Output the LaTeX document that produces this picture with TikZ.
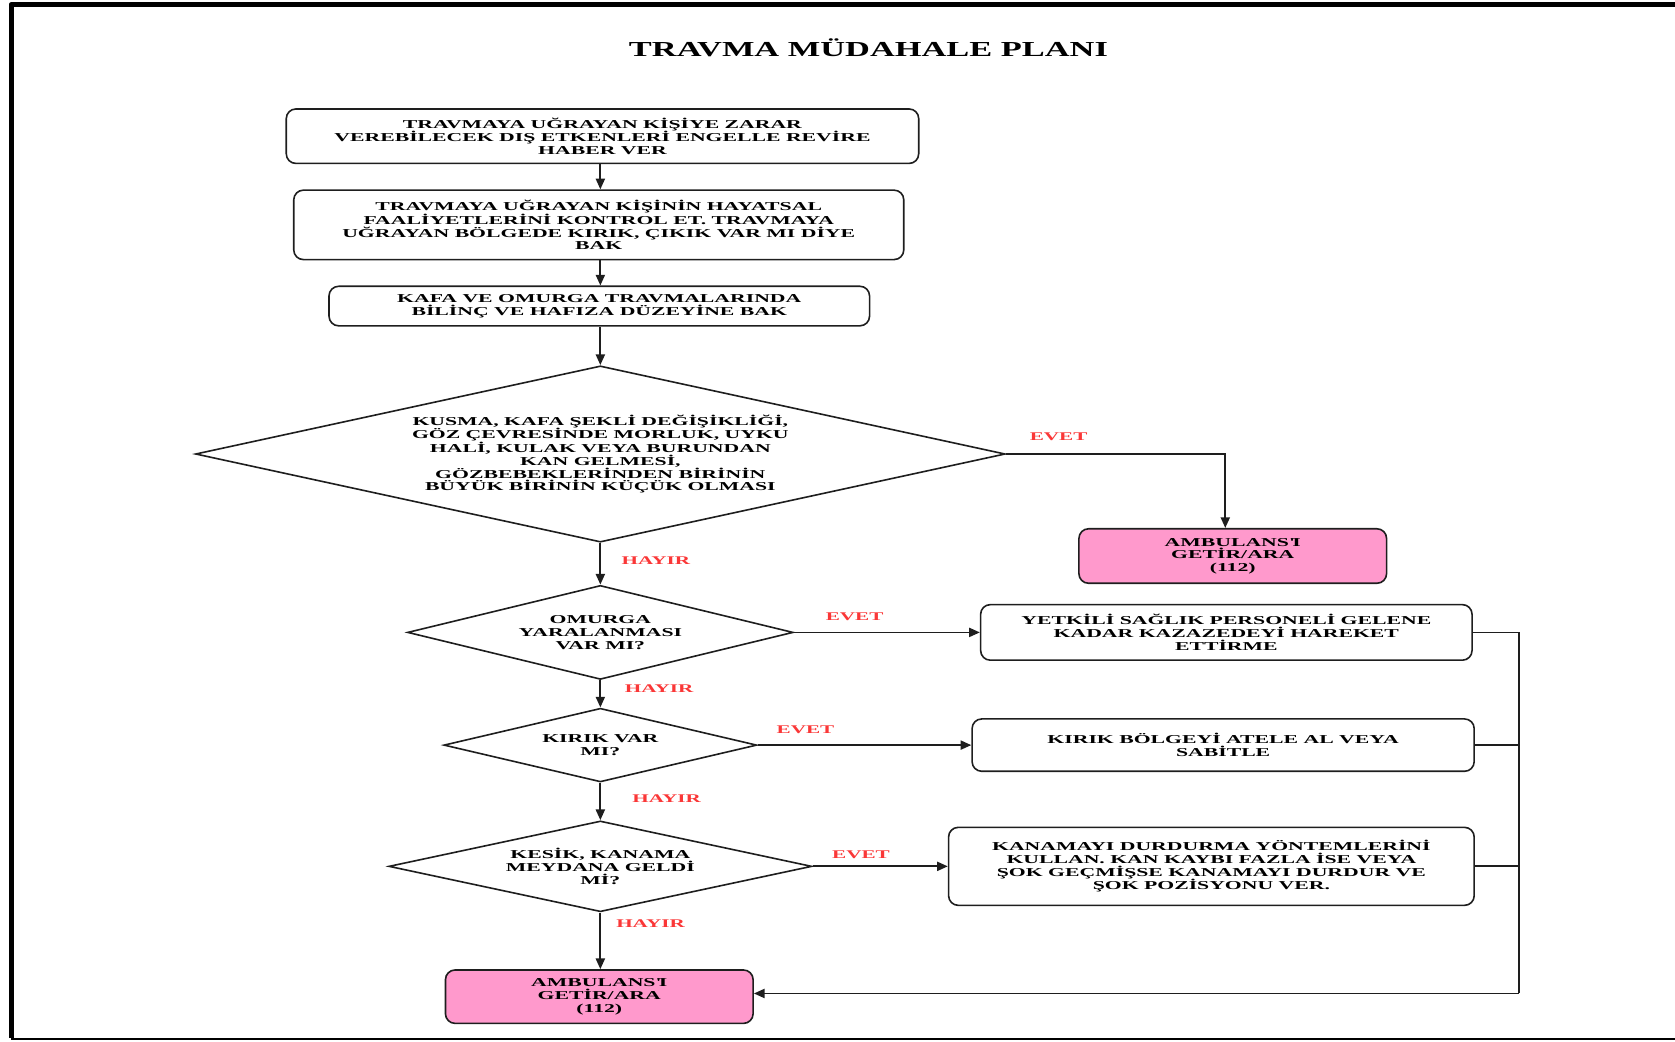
\documentclass[tikz,border=0pt]{standalone}
\usepackage{fontspec}
\setmainfont{Liberation Serif}
\newfontfamily\wideserif{Liberation Serif}[FakeStretch=1.8]
\newfontfamily\titleserif{Liberation Serif}[FakeStretch=1.61]
\usetikzlibrary{shapes.geometric,arrows.meta}
\definecolor{pinkfill}{RGB}{255,153,204}
\definecolor{lblred}{RGB}{250,55,55}
\definecolor{linegray}{RGB}{30,30,30}
\tikzset{
  boxtxt/.style={font=\wideserif\bfseries\fontsize{11.3}{11.9}\selectfont},
  procbox/.style={boxtxt, draw=linegray, line width=1.5pt, rounded corners=9pt,
    align=center, inner sep=0pt},
  ambbox/.style={procbox, fill=pinkfill},
  decision/.style={boxtxt, draw=linegray, line width=1.5pt, diamond, align=center,
    inner sep=0pt},
  lbl/.style={font=\wideserif\bfseries\fontsize{11}{12}\selectfont, text=lblred},
  conn/.style={draw=linegray, line width=1.7pt},
  arr/.style={conn, -{Triangle[length=10pt,width=8.5pt]}}
}
\begin{document}
\begin{tikzpicture}[x=1pt,y=-1pt]
\useasboundingbox (0,0) rectangle (1568,975);
% frame
\draw[line width=5pt, line join=round] (1570,4.3) -- (10.5,4.3) -- (10.5,972);
\draw[line width=2pt] (10.5,972.5) -- (1570,972.5);

% title
\node[font=\titleserif\bfseries\fontsize{20}{22}\selectfont] (title) at (813,45) {TRAVMA MÜDAHALE PLANI};

% process boxes
\node[procbox, minimum width=592pt, minimum height=51pt] (b1) at (564,127.5)
  {TRAVMAYA UĞRAYAN KİŞİYE ZARAR\\VEREBİLECEK DIŞ ETKENLERİ ENGELLE REVİRE\\HABER VER};
\node[procbox, minimum width=571pt, minimum height=65pt] (b2) at (560.5,210.5)
  {TRAVMAYA UĞRAYAN KİŞİNİN HAYATSAL\\FAALİYETLERİNİ KONTROL ET. TRAVMAYA\\UĞRAYAN BÖLGEDE KIRIK, ÇIKIK VAR MI DİYE\\BAK};
\node[procbox, minimum width=506pt, minimum height=37pt] (b3) at (561,286.5)
  {KAFA VE OMURGA TRAVMALARINDA\\BİLİNÇ VE HAFIZA DÜZEYİNE BAK};

% decisions
\node[decision, aspect=4.59, minimum width=758pt, minimum height=165pt] (d1) at (562,425)
  {KUSMA, KAFA ŞEKLİ DEĞİŞİKLİĞİ,\\GÖZ ÇEVRESİNDE MORLUK, UYKU\\HALİ, KULAK VEYA BURUNDAN\\KAN GELMESİ,\\GÖZBEBEKLERİNDEN BİRİNİN\\BÜYÜK BİRİNİN KÜÇÜK OLMASI};
\node[decision, aspect=4.1, minimum width=361pt, minimum height=88pt] (d2) at (562,592)
  {OMURGA\\YARALANMASI\\VAR MI?};
\node[decision, aspect=4.25, minimum width=293pt, minimum height=69pt] (d3) at (562,697.5)
  {KIRIK VAR\\MI?};
\node[decision, aspect=4.66, minimum width=396pt, minimum height=85pt] (d4) at (562,811)
  {KESİK, KANAMA\\MEYDANA GELDİ\\Mİ?};

% right-hand boxes
\node[ambbox, minimum width=288pt, minimum height=51pt] (amb1) at (1154,520.5)
  {AMBULANS\textquotesingle I\\GETİR/ARA\\(112)};
\node[procbox, minimum width=460pt, minimum height=52pt] (by) at (1148,592)
  {YETKİLİ SAĞLIK PERSONELİ GELENE\\KADAR KAZAZEDEYİ HAREKET\\ETTİRME};
\node[procbox, minimum width=470pt, minimum height=49pt] (bk) at (1145,697.5)
  {KIRIK BÖLGEYİ ATELE AL VEYA\\SABİTLE};
\node[procbox, minimum width=492pt, minimum height=73pt] (bkan) at (1134,811)
  {KANAMAYI DURDURMA YÖNTEMLERİNİ\\KULLAN. KAN KAYBI FAZLA İSE VEYA\\ŞOK GEÇMİŞSE KANAMAYI DURDUR VE\\ŞOK POZİSYONU VER.};
\node[ambbox, minimum width=288pt, minimum height=50pt] (amb2) at (561,933)
  {AMBULANS\textquotesingle I\\GETİR/ARA\\(112)};

% main flow
\draw[arr] (b1.south -| 562,0) -- (b2.north -| 562,0);
\draw[arr] (b2.south -| 562,0) -- (b3.north -| 562,0);
\draw[arr] (b3.south -| 562,0) -- (d1.north);
\draw[arr] (d1.south) -- (d2.north);
\draw[arr] (d2.south) -- (d3.north);
\draw[arr] (d3.south) -- (d4.north);
\draw[arr] (d4.south) -- (amb2.north -| d4.south);

% yes branches
\draw[arr] (d1.east) -| ([xshift=-7pt]amb1.north);
\draw[arr] (d2.east) -- (by.west);
\draw[arr] (d3.east) -- (bk.west);
\draw[arr] (d4.east) -- (bkan.west);

% collector
\coordinate (ctop) at (1422,592);
\coordinate (cbot) at (1422,930);
\draw[conn] (by.east) -- (ctop) -- (cbot);
\draw[conn] (bk.east) -- (bk.east -| ctop);
\draw[conn] (bkan.east) -- (bkan.east -| ctop);
\draw[arr] (cbot) -- (cbot -| amb2.east);

% labels
\node[lbl] (e1) at (991,409) {EVET};
\node[lbl] (h1) at (614,525) {HAYIR};
\node[lbl] (e2) at (800,577) {EVET};
\node[lbl] (h2) at (617,645) {HAYIR};
\node[lbl] (e3) at (754,683) {EVET};
\node[lbl] (h3) at (624,748) {HAYIR};
\node[lbl] (e4) at (806,800) {EVET};
\node[lbl] (h4) at (609,865) {HAYIR};
\end{tikzpicture}
\end{document}
